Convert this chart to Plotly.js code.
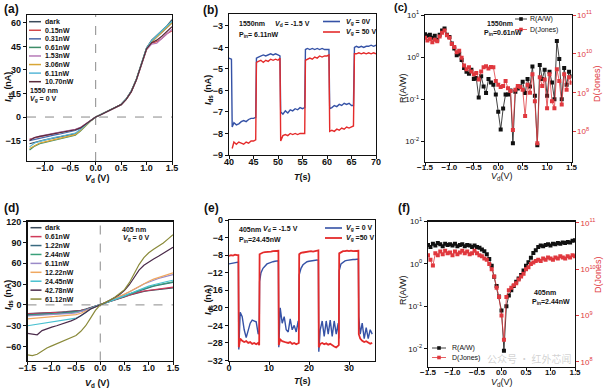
<!DOCTYPE html>
<html><head><meta charset="utf-8">
<script src="https://cdn.plot.ly/plotly-3.0.1.min.js"></script>
<style>html,body{margin:0;padding:0;background:#fff}#chart{width:605px;height:389px}</style>
</head><body><div id="chart"></div>
<script>
// ---------- Panel (a): 1550 nm I-V ----------
const vA = [-1.3,-1.2,-1.1,-1.0,-0.9,-0.8,-0.7,-0.6,-0.5,-0.4,-0.3,-0.2,-0.1,0,0.1,0.2,0.3,0.4,0.5,0.6,0.7,0.8,0.9,1.0,1.1,1.2,1.3,1.4,1.5];
const labelsA = ['dark','0.15nW','0.31nW','0.61nW','1.53nW','3.06nW','6.11nW','10.70nW'];
const iA_dark = [-17,-16,-15.3,-14.6,-14,-13.4,-12.8,-12.1,-11.4,-10.6,-8,-5,-2.4,0,1.5,3,4.5,6,8,11.5,16.5,24,34,44,49,52,55,58,62];
const iA_015  = [-14,-13.2,-12.5,-11.6,-11,-10.4,-9.8,-9.2,-8.6,-8,-6.8,-4.6,-2.2,0,1.5,3,4.4,5.9,7.8,11.2,16,23.5,33,43,47,48,50,53,55];
const iA_031  = [-15,-14.2,-13.4,-12.6,-12,-11.4,-10.8,-10,-9.4,-8.6,-7.2,-4.8,-2.3,0,1.5,3,4.5,6,8,11.4,16.4,24,33.5,43.5,48,51,54,57,60];
const iA_061  = [-21,-18.5,-17,-16.2,-15.5,-14.7,-14,-13.2,-12.4,-11.6,-9,-5.4,-2.5,0,1.5,3,4.5,6,8,11.5,16.6,24.2,34,44,48.5,51.5,54.5,57.5,61];
const iA_153  = [-14.5,-13,-12.2,-11.4,-10.8,-10.2,-9.6,-9,-8.4,-7.8,-6.6,-4.5,-2.2,0,1.5,3,4.4,5.9,7.9,11.3,16.2,23.6,33,43,46.5,47,50,53,56];
const iA_306  = [-20,-18,-16.5,-15.8,-15,-14.2,-13.5,-12.8,-12,-11.2,-8.6,-5.3,-2.5,0,1.5,3,4.5,6,8,11.4,16.4,24,33.6,43.6,48,51,54,57,60];
const iA_611  = [-19,-16.5,-15.5,-14.6,-13.8,-13,-12.4,-11.7,-11,-10.3,-8,-5.1,-2.4,0,1.5,3,4.5,6,8,11.5,16.5,24,34,44,48.6,51.5,55,58,61];
const iA_1070 = [-15,-13,-12.3,-11.7,-11.1,-10.5,-10,-9.4,-8.8,-8.1,-6.9,-4.7,-2.3,0,1.5,3,4.4,5.9,7.9,11.3,16.2,23.8,33.4,43.4,47.4,49,51.5,54.5,57.5];

// ---------- Panel (b): 1550 nm switching ----------
const tB = [40,40.5, 40.65,41,41.5,42,42.5,43,43.5,44,44.5,45,45.45, 45.6,46,46.5,47,47.5,48,48.5,49,49.5,50,50.4, 50.55,51,51.5,52,52.5,53,53.5,54,54.5,55,55.45, 55.6,56,56.5,57,57.5,58,58.5,59,59.5,60,60.4, 60.55,61,61.5,62,62.5,63,63.5,64,64.5,65,65.4, 65.6,66,66.5,67,67.5,68,68.5,69,69.5,70];
const iB_vg0 = [-4.5,-4.55, -7.7,-7.5,-7.6,-7.55,-7.45,-7.4,-7.45,-7.35,-7.3,-7.3,-7.25, -4.5,-4.45,-4.4,-4.35,-4.4,-4.35,-4.3,-4.35,-4.3,-4.35,-4.4, -7.0,-7.1,-6.95,-7.05,-6.9,-6.95,-6.85,-6.9,-6.8,-6.85,-6.8, -4.1,-4.05,-4.1,-4.05,-4.1,-4.05,-4.1,-4.05,-4.1,-4.1,-4.1, -6.85,-6.8,-6.7,-6.75,-6.65,-6.7,-6.6,-6.65,-6.6,-6.7,-6.7, -4.0,-3.95,-4.0,-3.95,-4.0,-3.95,-3.95,-3.9,-3.95,-3.9];
const iB_vg50 = [-8.7,-8.4,-8.5,-8.4,-8.45,-8.5,-8.4,-8.45,-8.35,-8.35,-8.3, -4.7,-4.65,-4.6,-4.7,-4.6,-4.65,-4.55,-4.6,-4.55,-4.6,-4.5, -8.35,-8.1,-8.05,-8.1,-8.0,-8.05,-8.0,-8.05,-8.0,-8.0,-8.0, -4.6,-4.55,-4.5,-4.55,-4.45,-4.5,-4.4,-4.45,-4.4,-4.4,-4.35, -7.9,-7.85,-7.9,-7.8,-7.85,-7.75,-7.8,-7.7,-7.75,-7.7,-7.65, -4.3,-4.3,-4.25,-4.3,-4.25,-4.3,-4.25,-4.3,-4.25,-4.3];

// ---------- Panels (c) and (f): responsivity / detectivity ----------
const vFine = [-1.5,-1.45,-1.4,-1.35,-1.3,-1.25,-1.2,-1.15,-1.1,-1.05,-1,-0.95,-0.9,-0.85,-0.8,-0.75,-0.7,-0.65,-0.6,-0.55,-0.5,-0.45,-0.4,-0.35,-0.3,-0.25,-0.2,-0.15,-0.1,-0.05,0,0.05,0.1,0.15,0.2,0.25,0.3,0.35,0.4,0.45,0.5,0.55,0.6,0.65,0.7,0.75,0.8,0.85,0.9,0.95,1,1.05,1.1,1.15,1.2,1.25,1.3,1.35,1.4,1.45,1.5];
const rC = [3.5,3.2,3.4,2.9,3.2,2.6,3.4,4.3,4.8,3.4, 3.0,2.1,1.6,1.1,1.2,0.85,0.55,0.45,0.4,0.5, 0.3,0.32,0.11,0.35,0.2,0.14,0.3,0.25,0.22,0.13, 0.05, 0.019,0.06,0.13,0.13,0.16,0.009,0.15,0.18,0.2,0.26, 0.14,0.3,0.2,0.6,0.12,0.008,0.65,0.3,0.5,0.12, 0.45,0.25,0.1,2.4,0.9,0.1,0.55,0.22,0.45,0.35];
const dC = [2.6e10,2.2e10,2.4e10,2.0e10,2.3e10,2.1e10,2.8e10,3.5e10,4.0e10,3.0e10, 2.6e10,1.8e10,1.5e10,1.1e10,1.2e10,8e9,5e9,4e9,4.5e9,3.5e9, 3e9,3.2e9,2.2e9,3.5e9,4.5e9,4.8e9,4.2e9,4.6e9,4.5e9,2e9, 1.6e9, 1.4e9,1.5e9,2e9,1.3e9,1.1e9,1.1e8,1.2e9,1.5e9,1.4e9,1.2e9, 2.5e8,1.6e9,1.0e9,3e9,6e8,5e7,2.5e9,1.5e9,2.2e9,4e8, 3e9,6e8,4e8,4e9,2e9,5e8,3e9,1.2e9,2.5e9,1.8e9];
const rF = [2.8,2.5,3.0,2.7,3.1,2.9,2.6,3.0,2.8,2.9, 2.7,3.0,2.6,2.8,2.9,2.6,2.8,2.7,2.5,2.7, 2.5,2.4,2.2,2.0,1.7,1.3,0.9,0.5,0.3,0.17, 0.08, 0.009,0.1,0.18,0.24,0.3,0.38,0.45,0.55,0.7,0.9, 1.1,1.4,1.8,2.1,2.5,2.7,2.6,2.8,2.9,2.7, 3.0,2.9,3.1,3.0,3.2,3.1,3.3,3.2,3.5,3.6];
const dF = [2.0e10,1.6e10,1.2e10,2.2e10,2.0e10,2.4e10,2.1e10,2.5e10,2.2e10,2.3e10, 2.0e10,2.4e10,2.1e10,2.3e10,2.5e10,2.2e10,2.4e10,2.1e10,2.2e10,2.5e10, 2.2e10,2.0e10,1.9e10,1.7e10,1.6e10,1.3e10,1.0e10,7e9,4e9,2.5e9, 1.0e9, 3e8,2.5e9,3.5e9,4e9,4.5e9,5e9,6e9,7e9,8e9,1.0e10, 1.1e10,1.3e10,1.4e10,1.5e10,1.6e10,1.5e10,1.7e10,1.6e10,1.8e10,1.7e10, 1.6e10,1.8e10,1.7e10,1.9e10,1.8e10,1.7e10,1.9e10,1.8e10,2.0e10,1.9e10];
const tickR = [0.01,0.1,1,10];
const tickRText = ['10<sup>-2</sup>','10<sup>-1</sup>','10<sup>0</sup>','10<sup>1</sup>'];
const tickD = [1e8,1e9,1e10,1e11];
const tickDText = ['10<sup>8</sup>','10<sup>9</sup>','10<sup>10</sup>','10<sup>11</sup>'];

// ---------- Panel (d): 405 nm I-V ----------
const vD = [-1.5,-1.4,-1.3,-1.2,-1.1,-1.0,-0.9,-0.8,-0.7,-0.6,-0.5,-0.4,-0.3,-0.2,-0.1,0,0.1,0.2,0.3,0.4,0.5,0.6,0.7,0.8,0.9,1.0,1.1,1.2,1.3,1.4,1.5];
const labelsD = ['dark','0.61nW','1.22nW','2.44nW','6.11nW','12.22nW','24.45nW','42.78nW','61.12nW'];
const iD_dark = [-12.5,-12.3,-12,-11.7,-11.3,-11,-10.6,-10.2,-9.8,-9.3,-8.7,-7.8,-6,-3.9,-1.8,0,2,4.3,6.8,9,11.5,14,16,18,19.5,20.5,21.5,22.5,23,24,24.5];
const iD_061  = [-13,-12.8,-12.5,-12.2,-11.8,-11.4,-11,-10.6,-10.2,-9.7,-9.1,-8.1,-6.2,-4,-1.9,0,2,4.5,7,9.5,12,14.5,16.5,18.5,20,21,22,23,24,24.5,25.5];
const iD_122  = [-14,-13.8,-13.5,-13.2,-12.8,-12.4,-12,-11.5,-11,-10.5,-9.8,-8.7,-6.6,-4.3,-2,0,2.2,4.8,7.2,9.8,12.5,15.5,18,20.5,23,25,27,28.5,30,31,32.5];
const iD_244  = [-15,-14.7,-14.4,-14,-13.6,-13.2,-12.8,-12.3,-11.8,-11.2,-10.5,-9.3,-7,-4.5,-2.1,0,2.2,4.8,7.2,9.8,12.5,15.5,18,21,23.5,25.5,27.5,29,30.5,31.5,33];
const iD_611  = [-16,-15.7,-15.3,-15,-14.6,-14.2,-13.8,-13.3,-12.8,-12.2,-11.5,-10,-7.5,-4.8,-2.2,0,2.5,5.5,8.5,11.5,15,18,22,26,30,33,35.5,38,40,42,43.5];
const iD_1222 = [-20,-19.5,-19,-18.5,-18,-17.5,-17,-16.5,-16,-15,-14,-12,-9,-5.5,-2.5,0,2.5,5.5,8.5,12,15.5,19,23,27,31,34,37,39.5,42,44,46];
const iD_2445 = [-30,-29,-28,-27,-26,-25,-24,-23,-22,-21,-19,-16,-11,-6,-2.5,0,2.3,5,7.5,10,13,16,19,22,25,27,29,31,32.5,34,35.5];
const iD_4278 = [-41,-42,-43,-37,-34,-32,-30,-28,-26,-23,-20,-16,-11,-6,-2.5,0,3,6.5,10.5,15,21,29,40,50,57,62,66,70,74,78,83];
const iD_6112 = [-72,-73,-71,-66,-62,-59,-56,-53,-50,-47,-44,-38,-30,-19,-8,0,3,7,11,16,22,32,45,58,68,75,80,84,89,95,101];

// ---------- Panel (e): 405 nm switching ----------
const tE = [0,0.5,1,1.5,2,2.35, 2.45,2.8,3.3,3.8,4.3,4.8,5.3,5.8,6.3,6.8,7.3,7.55, 7.65,8,8.5,9,9.5,10,10.5,11,11.5,12,12.35, 12.45,12.8,13.3,13.8,14.3,14.8,15.3,15.8,16.3,16.8,17.3,17.45, 17.55,18,18.5,19,19.5,20,20.5,21,21.5,22,22.35, 22.45,22.8,23.3,23.8,24.3,24.8,25.3,25.8,26.3,26.8,27.3,27.45, 27.55,28,28.5,29,29.5,30,30.5,31,31.5,32,32.35, 32.45,32.8,33.3,33.8,34.3,34.8,35.3,35.8];
const iE_vg0 = [-10.0,-9.9,-9.9,-9.8,-9.7,-9.6, -29.5,-21.0,-22.0,-25.0,-26.8,-25.0,-23.5,-22.8,-23.0,-23.2,-26.0,-25.5, -14.0,-12.0,-11.0,-10.5,-10.0,-9.8,-9.6,-9.5,-9.4,-9.3,-9.3, -29.0,-20.0,-23.5,-22.0,-25.0,-25.5,-22.5,-25.0,-24.0,-25.5,-23.0,-25.0, -12.5,-11.0,-10.2,-9.8,-9.5,-9.4,-9.3,-9.2,-9.2,-9.1,-9.2, -30.0,-25.0,-23.0,-26.5,-23.0,-26.0,-22.8,-26.5,-23.0,-26.0,-23.5,-27.0, -11.5,-10.0,-9.6,-9.3,-9.2,-9.1,-9.1,-9.0,-9.0,-9.0,-8.9, -22.0,-26.0,-23.5,-27.0,-24.5,-27.0,-25.0,-26.0];
const iE_vg50 = [-8.2,-8.0,-8.1,-7.9,-8.0,-8.0, -29.0,-27.0,-27.5,-27.8,-27.6,-28.0,-27.8,-28.2,-28.0,-28.3,-28.0,-28.5, -7.8,-7.6,-7.4,-7.3,-7.3,-7.2,-7.2,-7.1,-7.1,-7.0,-7.0, -28.5,-27.2,-27.6,-27.8,-27.9,-28.0,-27.8,-28.2,-28.0,-28.3,-28.1,-28.0, -7.8,-7.5,-7.4,-7.3,-7.2,-7.2,-7.1,-7.2,-7.1,-7.0,-6.9, -29.0,-28.2,-28.0,-28.3,-28.1,-28.4,-28.2,-28.6,-28.8,-29.0,-28.6,-28.5, -7.6,-7.3,-7.1,-7.1,-7.0,-7.1,-7.0,-7.1,-7.0,-7.0,-7.0, -26.0,-27.0,-27.5,-27.8,-27.6,-28.0,-28.2,-28.0];

// ---------- styling ----------
const W = 605, H = 389;
const px = x => x / W, py = y => 1 - y / H;
const FONT = 'Liberation Sans, Arial, sans-serif';
const BLUE = '#3552a6', RED = '#e42b2b', DRED = '#e0383e';
const colA = ['#3b4a5a','#d2484c','#4a68a8','#3d8d68','#b77ab8','#d8a636','#58b8d8','#5a2a3a'];
const colD = ['#3b4a5a','#d03a5a','#3a6a80','#3aa07a','#9a8ac8','#f0a860','#48c0d0','#4a2a4a','#8a8a3a'];
const seriesA = [iA_dark,iA_015,iA_031,iA_061,iA_153,iA_306,iA_611,iA_1070];
const seriesD = [iD_dark,iD_061,iD_122,iD_244,iD_611,iD_1222,iD_2445,iD_4278,iD_6112];

function ax(extra){
  return Object.assign({
    showline:true, linecolor:'#111', linewidth:1.3, mirror:true,
    ticks:'outside', ticklen:3, tickwidth:1, tickcolor:'#111',
    showgrid:false, zeroline:false, fixedrange:true,
    tickfont:{family:FONT,size:9,color:'#111',weight:'bold'}
  }, extra);
}
function xax(extra){ return ax(Object.assign({ticklabelstandoff:-5}, extra)); }
const traces = [];
seriesA.forEach((s,i)=>traces.push({x:vA,y:s,xaxis:'x',yaxis:'y',mode:'lines',line:{color:colA[i],width:1.2},showlegend:false,hoverinfo:'skip'}));
traces.push({x:tB,y:iB_vg0,xaxis:'x2',yaxis:'y2',mode:'lines',line:{color:BLUE,width:1.4},showlegend:false});
traces.push({x:tB.slice(2),y:iB_vg50,xaxis:'x2',yaxis:'y2',mode:'lines',line:{color:RED,width:1.4},showlegend:false});
traces.push({x:vFine,y:rC,xaxis:'x3',yaxis:'y3',mode:'lines+markers',line:{color:'#111',width:0.8},marker:{symbol:'square',size:4,color:'#111'},showlegend:false});
traces.push({x:vFine,y:dC,xaxis:'x3',yaxis:'y4',mode:'lines+markers',line:{color:DRED,width:0.8},marker:{symbol:'square',size:4,color:DRED},showlegend:false});
seriesD.forEach((s,i)=>traces.push({x:vD,y:s,xaxis:'x4',yaxis:'y5',mode:'lines',line:{color:colD[i],width:1.2},showlegend:false}));
traces.push({x:tE,y:iE_vg0,xaxis:'x5',yaxis:'y6',mode:'lines',line:{color:BLUE,width:1.4},showlegend:false});
traces.push({x:tE,y:iE_vg50,xaxis:'x5',yaxis:'y6',mode:'lines',line:{color:RED,width:1.8},showlegend:false});
traces.push({x:vFine,y:rF,xaxis:'x6',yaxis:'y7',mode:'lines+markers',line:{color:'#111',width:0.8},marker:{symbol:'square',size:4,color:'#111'},showlegend:false});
traces.push({x:vFine,y:dF,xaxis:'x6',yaxis:'y8',mode:'lines+markers',line:{color:DRED,width:0.8},marker:{symbol:'square',size:4,color:DRED},showlegend:false});

const small = {family:FONT,size:8,color:'#111'};
const redTick = {family:FONT,size:8,color:DRED};
const layout = {
  width:W, height:H, margin:{l:0,r:0,t:0,b:0}, paper_bgcolor:'#fff', plot_bgcolor:'#fff', showlegend:false,
  xaxis: xax({domain:[px(27),px(172)],anchor:'y',range:[-1.35,1.5],dtick:0.5,tick0:0,tickformat:'.1f'}),
  yaxis: ax({domain:[py(161),py(15)],anchor:'x',range:[-28,65],dtick:15,tick0:0}),
  xaxis2: xax({domain:[px(229),px(376)],anchor:'y2',range:[40,70],dtick:5,tick0:40}),
  yaxis2: ax({domain:[py(155),py(14)],anchor:'x2',range:[-9,-2.45],dtick:1,tick0:-9}),
  xaxis3: xax({domain:[px(425),px(571.5)],anchor:'y3',range:[-1.5,1.5],dtick:0.5,tick0:0,tickformat:'.1f',tickfont:Object.assign({},small,{weight:'bold'})}),
  yaxis3: ax({domain:[py(161.5),py(15)],anchor:'x3',type:'log',range:[-2.48,1],tickvals:tickR,ticktext:tickRText,tickfont:small}),
  yaxis4: ax({overlaying:'y3',side:'right',anchor:'x3',type:'log',range:[7.23,11],tickvals:tickD,ticktext:tickDText,showline:false,tickcolor:DRED,tickfont:redTick}),
  xaxis4: xax({domain:[px(27.5),px(173)],anchor:'y5',range:[-1.5,1.5],dtick:0.5,tick0:0,tickformat:'.1f'}),
  yaxis5: ax({domain:[py(360.5),py(221.5)],anchor:'x4',range:[-80,120],dtick:30,tick0:0}),
  xaxis5: xax({domain:[px(229),px(375)],anchor:'y6',range:[0,36.5],dtick:10,tick0:0}),
  yaxis6: ax({domain:[py(360.5),py(220)],anchor:'x5',range:[-32,0],dtick:4,tick0:0}),
  xaxis6: xax({domain:[px(428),px(575)],anchor:'y7',range:[-1.5,1.5],dtick:0.5,tick0:0,tickformat:'.1f',tickfont:Object.assign({},small,{weight:'bold'})}),
  yaxis7: ax({domain:[py(366.5),py(221.5)],anchor:'x6',type:'log',range:[-2.42,1],tickvals:tickR,ticktext:tickRText,tickfont:small}),
  yaxis8: ax({overlaying:'y7',side:'right',anchor:'x6',type:'log',range:[7.9,11.03],tickvals:tickD,ticktext:tickDText,showline:false,tickcolor:DRED,tickfont:redTick}),
  shapes: [], annotations: []
};
const S = layout.shapes, A = layout.annotations;
const dash = {color:'#8a8a8a',width:1,dash:'dash'};
S.push({type:'line',xref:'x',yref:'y domain',x0:0,x1:0,y0:0,y1:1,line:dash,layer:'below'});
S.push({type:'line',xref:'x domain',yref:'y',x0:0,x1:1,y0:0,y1:0,line:dash,layer:'below'});
S.push({type:'line',xref:'x4',yref:'y5 domain',x0:0,x1:0,y0:0,y1:1,line:dash,layer:'below'});
S.push({type:'line',xref:'x4 domain',yref:'y5',x0:0,x1:1,y0:0,y1:0,line:dash,layer:'below'});

function T(text,x,y,o){
  o=o||{};
  A.push({text:text,x:px(x),y:py(y),xref:'paper',yref:'paper',showarrow:false,
    xanchor:o.xa||'left',yanchor:o.ya||'middle',textangle:o.rot||0,
    font:{family:FONT,size:o.size||7,color:o.color||'#111',weight:o.w===undefined?'bold':o.w}});
}
function L(x0,x1,y,color,width){
  S.push({type:'line',xref:'paper',yref:'paper',x0:px(x0),x1:px(x1),y0:py(y),y1:py(y),line:{color:color,width:width||1.5}});
}
function Sq(x,y,color){
  S.push({type:'rect',xref:'paper',yref:'paper',x0:px(x-1.8),x1:px(x+1.8),y0:py(y+1.8),y1:py(y-1.8),fillcolor:color,line:{width:0}});
}
// panel letters
T('(a)',2,9,{size:12}); T('(b)',201,10,{size:12}); T('(c)',392,7,{size:11});
T('(d)',2,208,{size:12}); T('(e)',202,208,{size:12}); T('(f)',396,208,{size:12});
// axis titles
const Ids = '<i>I</i><sub>ds</sub> (nA)';
T(Ids,8,87,{rot:-90,xa:'center',size:9}); T('<i>V</i><sub>d</sub> (V)',97,178,{xa:'center',size:9});
T(Ids,208,90,{rot:-90,xa:'center',size:9}); T('<i>T</i>(s)',302,177,{xa:'center',size:9});
T('R(A/W)',403,88,{rot:-90,xa:'center',size:9,w:'normal'}); T('D(Jones)',597,84,{rot:-90,xa:'center',size:9,w:'normal',color:DRED});
T('<i>V</i><sub>d</sub>(V)',502,176.5,{xa:'center',size:9,w:'normal'});
T(Ids,8,295,{rot:-90,xa:'center',size:9}); T('<i>V</i><sub>d</sub> (V)',97,383,{xa:'center',size:9});
T(Ids,208,300,{rot:-90,xa:'center',size:9}); T('<i>T</i>(s)',302,381,{xa:'center',size:9});
T('R(A/W)',403,290,{rot:-90,xa:'center',size:9,w:'normal'}); T('D(Jones)',598,275,{rot:-90,xa:'center',size:9,w:'normal',color:DRED});
T('<i>V</i><sub>d</sub>(V)',502,382.5,{xa:'center',size:9,w:'normal'});
// legend (a)
labelsA.forEach((lb,i)=>{const y=21.7+i*8.57; L(29,41,y,colA[i],1.5); T(lb,43,y);});
T('1550 nm',28,90); T('<i>V</i><sub>g</sub> = 0 V',28,99.5);
// legend (d)
labelsD.forEach((lb,i)=>{const y=227.7+i*8.92; L(30.5,41.5,y,colD[i],1.5); T(lb,43.5,y);});
T('405 nm',120,229); T('<i>V</i><sub>g</sub> = 0 V',121,238);
// panel (b) texts
T('1550nm',237,24); T('<i>V</i><sub>d</sub> = -1.5 V',273,24); T('P<sub>in</sub>= 6.11nW',237,34.5);
L(323,340,21.5,BLUE,1.6); T('<i>V</i><sub>g</sub> = 0V',344,21.5);
L(323,340,32,RED,1.6); T('<i>V</i><sub>g</sub> = 50 V',344,32);
// panel (c) texts
T('1550nm',500,23,{xa:'center'}); T('P<sub>in</sub>=0.61nW',503,32.5,{xa:'center'});
L(515,527,19,'#111',0.8); Sq(521,19,'#111'); T('R(A/W)',528,19,{w:'normal'});
L(515,527,29.5,DRED,0.8); Sq(521,29.5,DRED); T('D(Jones)',528,29.5,{w:'normal'});
// panel (e) texts
T('405nm',237,229); T('<i>V</i><sub>d</sub> = -1.5 V',261,229); T('P<sub>in</sub>=24.45nW',237,239.5);
L(325,342,228,BLUE,1.6); T('<i>V</i><sub>g</sub> = 0 V',344,228);
L(325,342,238,RED,1.8); T('<i>V</i><sub>g</sub> =50 V',344,238);
// panel (f) texts
T('405nm',545,292,{xa:'center'}); T('P<sub>in</sub>=2.44nW',551,301.5,{xa:'center'});
L(432,446,348,'#111',0.8); Sq(439,348,'#111'); T('R(A/W)',450,348,{w:'normal'});
L(432,446,357.5,DRED,0.8); Sq(439,357.5,DRED); T('D(Jones)',450,357.5,{w:'normal'});
// watermark (faint, sits inside the lower right of panel f as in the source)
A.push({text:'公众号 · 红外芯闻',x:px(529),y:py(358),xref:'paper',yref:'paper',showarrow:false,xanchor:'center',yanchor:'middle',
  font:{family:'Noto Sans CJK SC',size:10,color:'rgba(140,140,140,0.4)'}});

Plotly.newPlot('chart',traces,layout,{staticPlot:true,displayModeBar:false});
</script></body></html>
